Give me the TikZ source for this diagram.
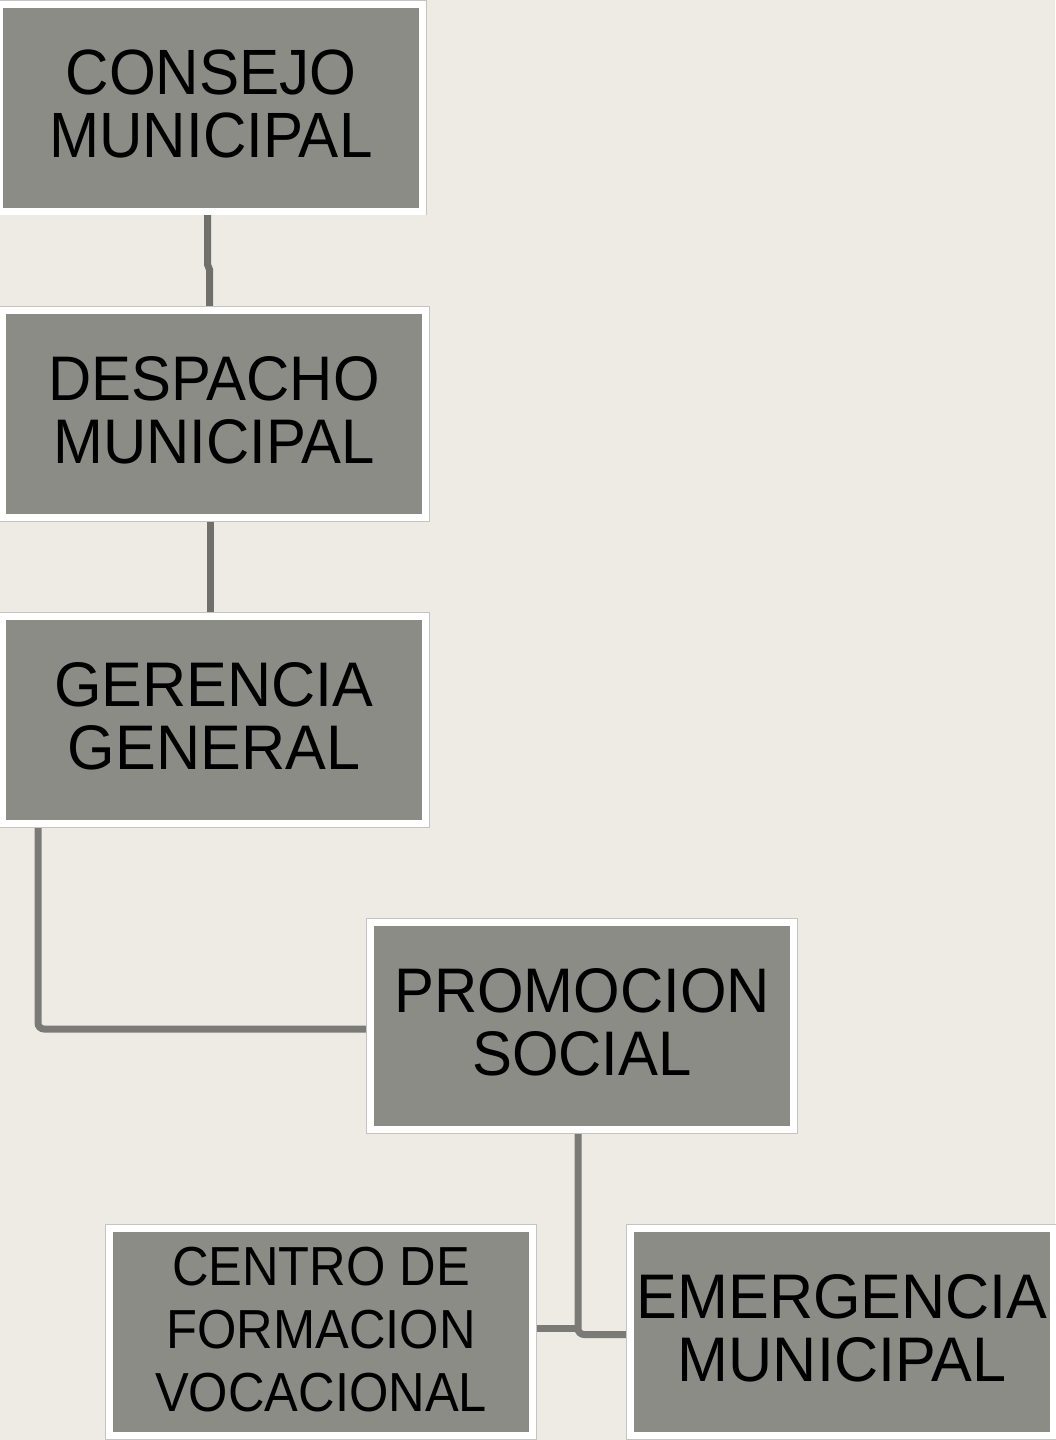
\documentclass[tikz,border=0pt]{standalone}
\usepackage{fontspec}
\setmainfont{Liberation Sans}
\newfontfamily\fontA[FakeStretch=0.94]{Liberation Sans}
\newfontfamily\fontB[FakeStretch=0.95]{Liberation Sans}
\newfontfamily\fontC[FakeStretch=0.92]{Liberation Sans}
\newfontfamily\fontD[FakeStretch=0.97]{Liberation Sans}
\usetikzlibrary{backgrounds}
\definecolor{pagebg}{HTML}{EEEBE4}
\definecolor{boxgray}{HTML}{8B8C86}
\definecolor{framegray}{HTML}{C4C4C0}
\definecolor{conncol}{HTML}{7A7B76}
\definecolor{conndark}{HTML}{6F706B}
\begin{document}
\begin{tikzpicture}[x=1pt,y=-1pt,
  orgbox/.style={rectangle, inner sep=0pt, minimum width=423pt, minimum height=207pt,
    fill=boxgray, draw=white, line width=7pt,
    preaction={draw=framegray, line width=8.6pt}},
  boxtext/.style={inner sep=0pt, align=center, text=black},
  conn/.style={draw=conncol, line width=7pt},
  bigfont/.style={font=\fontB\fontsize{63}{63}\selectfont}]
\useasboundingbox (0,0) rectangle (1055,1440);

% boxes
\node[orgbox] (consejo) at (211,107.5) {};
\node[orgbox] (despacho) at (214,414) {};
\node[orgbox] (gerencia) at (214,720) {};
\node[orgbox] (promo) at (582,1026) {};
\node[orgbox] (centro) at (321,1332) {};
\node[orgbox] (emerg) at (842,1332) {};

% texts
\node[boxtext, font=\fontA\fontsize{64}{63}\selectfont] (consejo-t) at ([yshift=4pt]consejo.center) {CONSEJO\\MUNICIPAL};
\node[boxtext, bigfont] (despacho-t) at ([yshift=4pt]despacho.center) {DESPACHO\\MUNICIPAL};
\node[boxtext, font=\fontD\fontsize{63}{63}\selectfont] (gerencia-t) at ([yshift=3.5pt]gerencia.center) {GERENCIA\\GENERAL};
\node[boxtext, bigfont] (promo-t) at ([yshift=3.5pt]promo.center) {PROMOCION\\SOCIAL};
\node[boxtext, font=\fontC\fontsize{55}{63}\selectfont] (centro-t) at ([yshift=2pt]centro.center) {CENTRO DE\\FORMACION\\VOCACIONAL};
\node[boxtext, font=\fontD\fontsize{63}{63}\selectfont] (emerg-t) at ([yshift=4pt]emerg.center) {EMERGENCIA\\MUNICIPAL};

\coordinate (pdrop) at ([xshift=-4pt]promo.south);
\coordinate (cjoin) at ([yshift=4pt]centro.east);

\begin{pgfonlayer}{background}
\fill[pagebg] (0,0) rectangle (1055,1440);
\draw[conn, draw=conndark] ([xshift=-3.5pt]consejo.south) -- ++(0,50) -- ++(2,5) -- ([xshift=-4.5pt]despacho.north);
\draw[conn, draw=conndark] ([xshift=-4pt]despacho.south) -- ([xshift=-4pt]gerencia.north);
\draw[conn, rounded corners=6pt] ([xshift=-176pt]gerencia.south) |- ([yshift=-3pt]promo.west);
\draw[conn, rounded corners=6pt] (pdrop) |- ([yshift=-2.5pt]emerg.west);
\draw[conn] (cjoin) -- (cjoin -| pdrop);
\end{pgfonlayer}
\end{tikzpicture}
\end{document}
